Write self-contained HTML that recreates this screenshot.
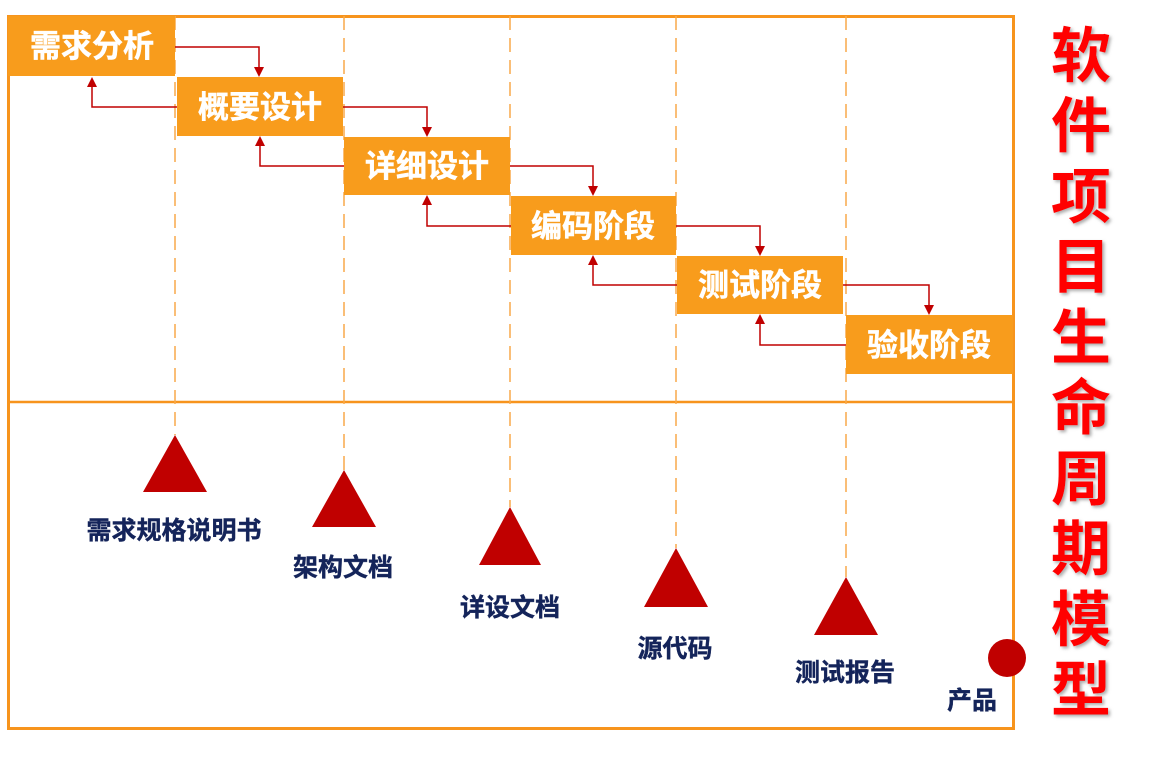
<!DOCTYPE html>
<html><head><meta charset="utf-8"><style>
body{margin:0;background:#fff;width:1150px;height:760px;overflow:hidden}
svg{display:block}
.b{font-family:"Liberation Sans","Noto Sans CJK SC",sans-serif;font-weight:bold}
</style></head><body>
<svg width="1150" height="760" xmlns="http://www.w3.org/2000/svg">
<defs>
<filter id="sh"><feDropShadow dx="2" dy="2" stdDeviation="1.5" flood-color="#888" flood-opacity="0.7"/></filter>
</defs>
<rect x="8.5" y="16.5" width="1005" height="712" fill="none" stroke="#f7941d" stroke-width="3"/>
<line x1="8" y1="402" x2="1013" y2="402" stroke="#f7941d" stroke-width="2.5"/>
<g stroke="#f9a94a" stroke-width="1.5" stroke-dasharray="14,8">
<line x1="175" y1="16" x2="175" y2="435"/>
<line x1="344" y1="16" x2="344" y2="470"/>
<line x1="510" y1="16" x2="510" y2="507"/>
<line x1="676" y1="16" x2="676" y2="548"/>
<line x1="846" y1="16" x2="846" y2="577"/>
</g>
<g fill="#f89c1c">
<rect x="8" y="16" width="167" height="60"/>
<rect x="177" y="77" width="166" height="59"/>
<rect x="344" y="137" width="166" height="58"/>
<rect x="511" y="196" width="165" height="59"/>
<rect x="677" y="256" width="166" height="58"/>
<rect x="846" y="315" width="167" height="59"/>
</g>
<g class="b" fill="#fff" font-size="31" text-anchor="middle" stroke="#fff" stroke-width="0.5">
<text x="92" y="57">需求分析</text>
<text x="260" y="118">概要设计</text>
<text x="427" y="177">详细设计</text>
<text x="593" y="237">编码阶段</text>
<text x="760" y="296">测试阶段</text>
<text x="929" y="356">验收阶段</text>
</g>
<g stroke="#c00000" stroke-width="1.5" fill="none">
<polyline points="175,47 259,47 259,68"/>
<polyline points="343,107 427,107 427,128"/>
<polyline points="510,166 593,166 593,187"/>
<polyline points="676,226 760,226 760,247"/>
<polyline points="843,285 929,285 929,306"/>
<polyline points="177,107 92,107 92,85"/>
<polyline points="344,166 260,166 260,145"/>
<polyline points="511,226 427,226 427,204"/>
<polyline points="677,285 593,285 593,264"/>
<polyline points="846,345 760,345 760,323"/>
</g>
<g fill="#c00000">
<path d="M254,67 L264,67 L259,77 Z"/>
<path d="M422,127 L432,127 L427,137 Z"/>
<path d="M588,186 L598,186 L593,196 Z"/>
<path d="M755,246 L765,246 L760,256 Z"/>
<path d="M924,305 L934,305 L929,315 Z"/>
<path d="M87,87 L97,87 L92,77 Z"/>
<path d="M255,146 L265,146 L260,136 Z"/>
<path d="M422,205 L432,205 L427,195 Z"/>
<path d="M588,265 L598,265 L593,255 Z"/>
<path d="M755,324 L765,324 L760,314 Z"/>
</g>
<g fill="#c00000">
<path d="M175,435 L207,492 L143,492 Z"/>
<path d="M344,470 L376,527 L312,527 Z"/>
<path d="M510,507 L541,565 L479,565 Z"/>
<path d="M676,548 L708,607 L644,607 Z"/>
<path d="M846,577 L878,635 L814,635 Z"/>
<circle cx="1007" cy="658" r="19"/>
</g>
<g class="b" fill="#14245a" font-size="25" text-anchor="middle" stroke="#14245a" stroke-width="0.4">
<text x="174" y="539">需求规格说明书</text>
<text x="343" y="576">架构文档</text>
<text x="510" y="616">详设文档</text>
<text x="675" y="657">源代码</text>
<text x="845" y="681">测试报告</text>
<text x="972" y="709">产品</text>
</g>
<g class="b" fill="#ff0000" font-size="60" text-anchor="middle" filter="url(#sh)">
<text x="1081" y="77">软</text>
<text x="1081" y="147">件</text>
<text x="1081" y="218">项</text>
<text x="1081" y="288">目</text>
<text x="1081" y="359">生</text>
<text x="1081" y="429">命</text>
<text x="1081" y="500">周</text>
<text x="1081" y="570">期</text>
<text x="1081" y="641">模</text>
<text x="1081" y="711">型</text>
</g>
</svg>
</body></html>
